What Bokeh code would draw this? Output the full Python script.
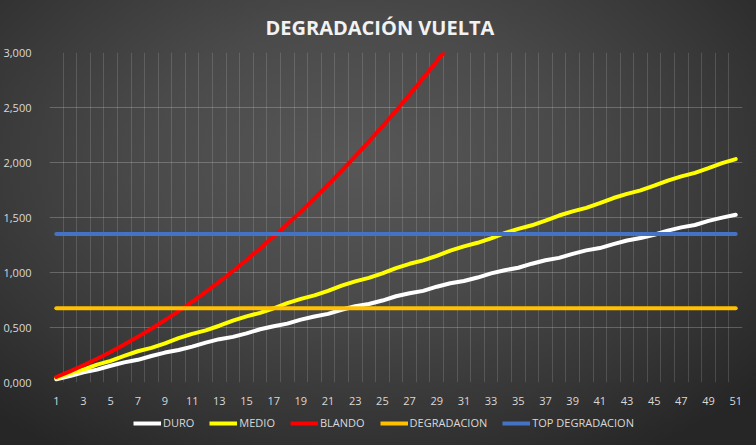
from bokeh.plotting import figure
from bokeh.layouts import column
from bokeh.models import Range1d, FixedTicker, CustomJSTickFormatter, Legend, LegendItem, InlineStyleSheet
from bokeh.embed import file_html
from bokeh.resources import INLINE

laps = list(range(1, 52))

duro = [0.030, 0.058, 0.092, 0.117, 0.152, 0.183, 0.206, 0.241, 0.272, 0.295,
        0.326, 0.362, 0.394, 0.415, 0.447, 0.484, 0.512, 0.535, 0.572, 0.600,
        0.624, 0.661, 0.693, 0.714, 0.745, 0.784, 0.811, 0.833, 0.871, 0.902,
        0.923, 0.954, 0.992, 1.021, 1.043, 1.080, 1.111, 1.133, 1.169, 1.201,
        1.222, 1.258, 1.291, 1.313, 1.343, 1.381, 1.410, 1.432, 1.469, 1.499,
        1.525]

medio = [0.040, 0.083, 0.118, 0.163, 0.197, 0.241, 0.284, 0.315, 0.356, 0.403,
         0.442, 0.474, 0.516, 0.562, 0.601, 0.633, 0.675, 0.722, 0.760, 0.792,
         0.833, 0.881, 0.919, 0.951, 0.993, 1.040, 1.079, 1.110, 1.152, 1.199,
         1.238, 1.270, 1.311, 1.358, 1.397, 1.429, 1.471, 1.518, 1.556, 1.588,
         1.630, 1.677, 1.715, 1.747, 1.789, 1.836, 1.874, 1.906, 1.948, 1.995,
         2.031]

# BLANDO leaves the chart (above 3,000) after about lap 29
blando = [0.050, 0.101, 0.157, 0.216, 0.278, 0.345, 0.415, 0.489, 0.567, 0.649,
          0.734, 0.824, 0.917, 1.014, 1.114, 1.219, 1.327, 1.439, 1.555, 1.674,
          1.798, 1.925, 2.056, 2.190, 2.329, 2.471, 2.617, 2.767, 2.921, 3.078,
          3.240]

degradacion_value = 0.675
top_degradacion_value = 1.35
degradacion = [degradacion_value for _ in laps]
top_degradacion = [top_degradacion_value for _ in laps]

x_ticks = [1, 3, 5, 7, 9, 11, 13, 15, 17, 19, 21, 23, 25, 27, 29, 31, 33, 35,
           37, 39, 41, 43, 45, 47, 49, 51]
y_ticks = [0.0, 0.5, 1.0, 1.5, 2.0, 2.5, 3.0]

series_names = ["DURO", "MEDIO", "BLANDO", "DEGRADACION", "TOP DEGRADACION"]
series_colors = ["#ffffff", "#ffff00", "#ff0000", "#ffc000", "#4472c4"]

bg_css = InlineStyleSheet(css=""":host {
  background: radial-gradient(ellipse 70% 78% at 47% 36%, #575757 0%, #4a4a4a 40%, #363636 75%, #262626 100%);
}""")

# ---------------- main chart ----------------
p = figure(width=756, height=410,
           x_range=Range1d(0.5, 51.5), y_range=Range1d(0, 3),
           output_backend="svg", toolbar_location=None,
           min_border_left=47, min_border_right=14,
           min_border_top=52, min_border_bottom=28)

p.border_fill_color = None
p.background_fill_color = None
p.outline_line_color = None

p.title.text = "DEGRADACIÓN VUELTA"
p.title.align = "left"
p.title.offset = 216
p.title.vertical_align = "top"
p.title.standoff = 20
p.title.text_font = "Open Sans"
p.title.text_font_style = "bold"
p.title.text_font_size = "20px"
p.title.text_color = "#f2f2f2"

data = [duro, medio, blando, degradacion, top_degradacion]
for name, color, ys in zip(series_names, series_colors, data):
    p.line(laps[:len(ys)], ys, line_color=color, line_width=4,
           line_cap="round", line_join="round")

p.xaxis.ticker = FixedTicker(ticks=x_ticks)
p.yaxis.ticker = FixedTicker(ticks=y_ticks)
p.yaxis.formatter = CustomJSTickFormatter(code="return tick.toFixed(3).replace('.', ',');")
for ax in (p.xaxis[0], p.yaxis[0]):
    ax.axis_line_color = None
    ax.major_tick_line_color = None
    ax.minor_tick_line_color = None
    ax.major_label_text_color = "#d9d9d9"
    ax.major_label_text_font = "Open Sans"
    ax.major_label_text_font_size = "11px"
p.xaxis.major_label_standoff = 8
p.yaxis.major_label_standoff = 12

p.xgrid.ticker = FixedTicker(ticks=[i + 0.5 for i in range(0, 52)])
p.ygrid.ticker = FixedTicker(ticks=y_ticks)
p.xgrid.grid_line_color = "#d9d9d9"
p.xgrid.grid_line_alpha = 0.18
p.ygrid.grid_line_color = "#d9d9d9"
p.ygrid.grid_line_alpha = 0.28

# ---------------- legend strip ----------------
lg = figure(width=756, height=35, x_range=Range1d(0, 1), y_range=Range1d(0, 1),
            output_backend="svg", toolbar_location=None,
            min_border_left=0, min_border_right=0, min_border_top=0, min_border_bottom=0,
            x_axis_type=None, y_axis_type=None)
lg.border_fill_color = None
lg.background_fill_color = None
lg.outline_line_color = None
lg.grid.visible = False

# legend keys only: their points lie outside the strip's visible range
keys = [lg.line([5, 6], [5, 5], line_color=c, line_width=4) for c in series_colors]
legend = Legend(items=[LegendItem(label=n, renderers=[r]) for n, r in zip(series_names, keys)],
                orientation="horizontal", location=(84, 15),
                background_fill_alpha=0, border_line_color=None,
                label_text_color="#d9d9d9", label_text_font="Open Sans",
                label_text_font_size="11px", glyph_width=28, glyph_height=12,
                label_height=14, spacing=15, label_standoff=2, margin=0, padding=2)
lg.add_layout(legend)

layout = column(p, lg, spacing=0, stylesheets=[bg_css])

open("out.html", "w").write(file_html(layout, INLINE))
